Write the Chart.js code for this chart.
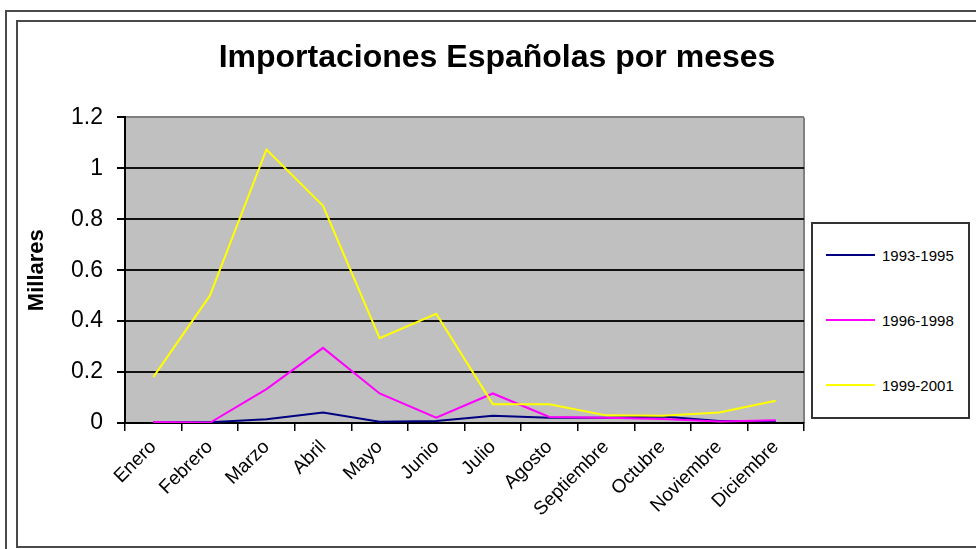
<!DOCTYPE html>
<html lang="es">
<head>
<meta charset="utf-8">
<title>Importaciones Españolas por meses</title>
<script src="https://cdn.jsdelivr.net/npm/chart.js@4.4.1/dist/chart.umd.min.js"></script>
<style>
  html, body { margin: 0; padding: 0; background: #ffffff; }
  #wrap { position: relative; width: 976px; height: 549px; overflow: hidden; }
  #c { position: absolute; left: 0; top: 0; }
  .frame { position: absolute; background: #4a4a4a; }
  #legend { position: absolute; left: 811px; top: 222px; width: 159px; height: 197px;
            box-sizing: border-box; border: 2px solid #333; background: #fff; }
  .li { position: absolute; left: 13px; height: 20px; display: flex; align-items: center;
        font-family: "Liberation Sans", Arial, sans-serif; font-size: 15px; color: #000; }
  .li .sw { width: 49px; height: 2px; margin-right: 7px; }
</style>
</head>
<body>
<div id="wrap">
  <canvas id="c" width="976" height="549"></canvas>
  <!-- outer frame -->
  <div class="frame" style="left:5px; top:10px; width:971px; height:2px;"></div>
  <div class="frame" style="left:5px; top:10px; width:2px; height:539px;"></div>
  <!-- inner frame -->
  <div class="frame" style="left:16px; top:20px; width:960px; height:2px;"></div>
  <div class="frame" style="left:16px; top:20px; width:2px; height:528px;"></div>
  <div class="frame" style="left:16px; top:546px; width:960px; height:2px;"></div>
  <div id="legend"></div>
</div>
<script>
const months = ['Enero','Febrero','Marzo','Abril','Mayo','Junio','Julio','Agosto','Septiembre','Octubre','Noviembre','Diciembre'];
const seriesNames = ['1993-1995','1996-1998','1999-2001'];
const s1993_1995 = [0.003, 0.003, 0.015, 0.041, 0.005, 0.008, 0.028, 0.021, 0.021, 0.026, 0.008, 0.008];
const s1996_1998 = [0.004, 0.001, 0.133, 0.295, 0.116, 0.021, 0.116, 0.024, 0.021, 0.016, 0.006, 0.011];
const s1999_2001 = [0.18, 0.50, 1.074, 0.853, 0.333, 0.429, 0.074, 0.074, 0.030, 0.028, 0.041, 0.087];
const yTickLabels = ['0','0.2','0.4','0.6','0.8','1','1.2'];
const seriesColors = ['#000080','#FF00FF','#FFFF00'];

const FONT = '"Liberation Sans", Arial, sans-serif';

const plotBg = {
  id: 'plotBg',
  beforeDraw(chart) {
    const {ctx, chartArea: a} = chart;
    ctx.save();
    ctx.fillStyle = '#C0C0C0';
    ctx.fillRect(a.left, a.top, a.right - a.left, a.bottom - a.top);
    ctx.strokeStyle = '#808080';
    ctx.lineWidth = 2;
    ctx.beginPath();
    ctx.moveTo(a.right, a.top);
    ctx.lineTo(a.right, a.bottom);
    ctx.stroke();
    ctx.restore();
  }
};

const chart = new Chart(document.getElementById('c'), {
  type: 'line',
  data: {
    labels: months,
    datasets: [
      { label: seriesNames[0], data: s1993_1995, borderColor: seriesColors[0], backgroundColor: seriesColors[0], order: 3, yAxisID: 'y' },
      { label: seriesNames[1], data: s1996_1998, borderColor: seriesColors[1], backgroundColor: seriesColors[1], order: 2, yAxisID: 'y' },
      { label: seriesNames[2], data: s1999_2001, borderColor: seriesColors[2], backgroundColor: seriesColors[2], order: 1, yAxisID: 'y' }
    ]
  },
  options: {
    responsive: false,
    animation: false,
    devicePixelRatio: 1,
    layout: { padding: { left: 18, right: 0, top: 0, bottom: 0 } },
    elements: {
      line: { borderWidth: 2, tension: 0 },
      point: { radius: 0, hoverRadius: 0 }
    },
    plugins: {
      legend: { display: false },
      tooltip: { enabled: false },
      title: {
        display: true,
        text: 'Importaciones Españolas por meses',
        color: '#000',
        font: { family: FONT, size: 32, weight: 'bold' },
        padding: { top: 39, bottom: 40 }
      }
    },
    scales: {
      x: {
        type: 'category',
        offset: true,
        afterFit(s) { s.height = 126; },
        grid: { offset: true, drawOnChartArea: false, drawTicks: true, tickLength: 8, tickColor: '#000', lineWidth: 1.5 },
        border: { display: true, color: '#000', width: 2 },
        ticks: {
          autoSkip: false, minRotation: 45, maxRotation: 45, padding: 5,
          color: '#000', font: { family: FONT, size: 19 }
        }
      },
      y: {
        position: 'left',
        min: 0, max: 1.2,
        afterFit(s) { s.width = 107; },
        grid: {
          color: (c) => (c.tick && c.tick.value >= 1.19) ? '#808080' : '#111',
          lineWidth: 2, drawTicks: true, tickLength: 8, tickColor: '#000'
        },
        border: { display: true, color: '#000', width: 2 },
        ticks: {
          stepSize: 0.2, padding: 14, color: '#000',
          font: { family: FONT, size: 23 },
          callback: (v, i) => yTickLabels[i]
        },
        title: {
          display: true, text: 'Millares', color: '#000',
          font: { family: FONT, size: 22, weight: 'bold' },
          padding: { top: 6, bottom: 0 }
        }
      },
      legendSpace: {
        position: 'right',
        display: true,
        afterFit(s) { s.width = 172; },
        grid: { display: false, drawTicks: false },
        border: { display: false },
        ticks: { display: false }
      }
    }
  },
  plugins: [plotBg]
});

// HTML legend built from the chart's datasets
const legendEl = document.getElementById('legend');
chart.data.datasets.forEach((ds, i) => {
  const item = document.createElement('div');
  item.className = 'li';
  item.style.top = (21 + i * 65) + 'px';
  const sw = document.createElement('span');
  sw.className = 'sw';
  sw.style.background = ds.borderColor;
  const tx = document.createElement('span');
  tx.textContent = ds.label;
  item.appendChild(sw);
  item.appendChild(tx);
  legendEl.appendChild(item);
});
</script>
</body>
</html>
